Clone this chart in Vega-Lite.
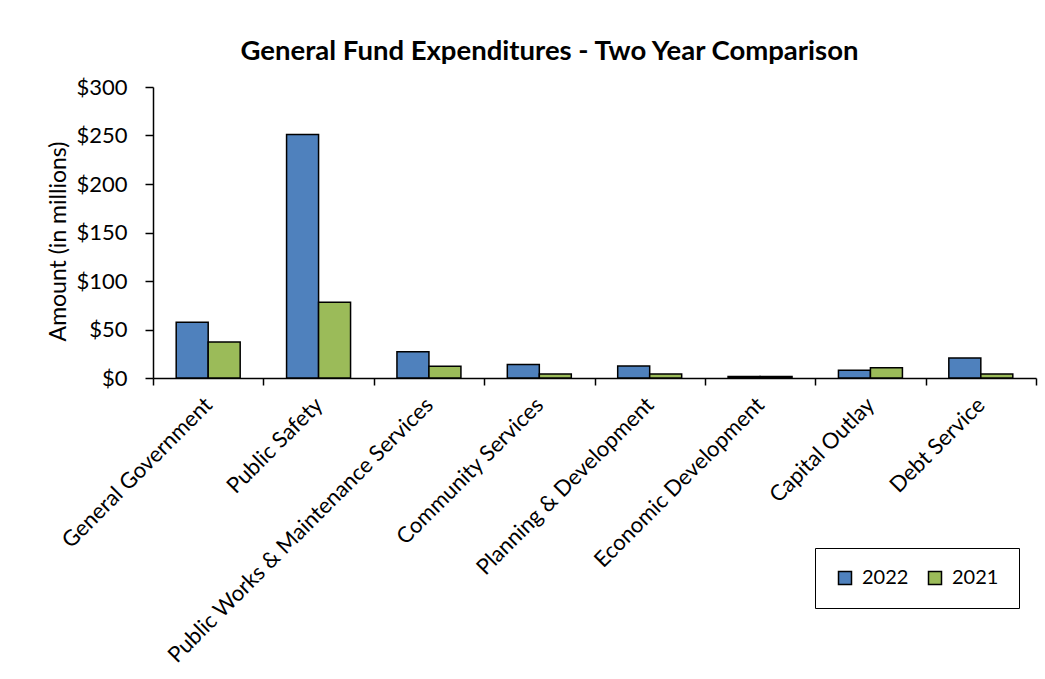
{
  "$schema": "https://vega.github.io/schema/vega-lite/v6.json",
  "autosize": "none",
  "width": 883,
  "height": 291,
  "padding": {"left": 153, "top": 87, "right": 9, "bottom": 301},
  "background": "white",
  "title": {
    "text": "General Fund Expenditures - Two Year Comparison",
    "font": "Lato",
    "fontSize": 27.5,
    "fontWeight": "bold",
    "color": "black",
    "frame": "group",
    "anchor": "middle",
    "dx": -45,
    "baseline": "alphabetic",
    "offset": -11
  },
  "data": {
    "values": [
      {"category": "General Government", "year": "2022", "amount": 57.5},
      {"category": "General Government", "year": "2021", "amount": 37},
      {"category": "Public Safety", "year": "2022", "amount": 251},
      {"category": "Public Safety", "year": "2021", "amount": 78},
      {"category": "Public Works & Maintenance Services", "year": "2022", "amount": 27},
      {"category": "Public Works & Maintenance Services", "year": "2021", "amount": 12},
      {"category": "Community Services", "year": "2022", "amount": 14},
      {"category": "Community Services", "year": "2021", "amount": 4},
      {"category": "Planning & Development", "year": "2022", "amount": 12.5},
      {"category": "Planning & Development", "year": "2021", "amount": 4},
      {"category": "Economic Development", "year": "2022", "amount": 1.5},
      {"category": "Economic Development", "year": "2021", "amount": 1.5},
      {"category": "Capital Outlay", "year": "2022", "amount": 8},
      {"category": "Capital Outlay", "year": "2021", "amount": 10.5},
      {"category": "Debt Service", "year": "2022", "amount": 20.5},
      {"category": "Debt Service", "year": "2021", "amount": 4}
    ]
  },
  "mark": {"type": "bar", "stroke": "black", "strokeWidth": 1.5},
  "encoding": {
    "x": {
      "field": "category",
      "type": "nominal",
      "sort": null,
      "scale": {"paddingInner": 0, "paddingOuter": 0},
      "axis": {
        "title": null,
        "labelAngle": -45,
        "labelAlign": "right",
        "labelBaseline": "middle",
        "labelFont": "Lato",
        "labelFontSize": 22,
        "labelColor": "black",
        "labelPadding": 16,
        "labelLimit": 500,
        "tickBand": "extent",
        "tickSize": 7,
        "tickColor": "black",
        "tickWidth": 1.5,
        "domainColor": "black",
        "domainWidth": 1.5
      }
    },
    "xOffset": {
      "field": "year",
      "type": "nominal",
      "sort": ["2022", "2021"],
      "scale": {"paddingInner": 0, "paddingOuter": 0.725}
    },
    "y": {
      "field": "amount",
      "type": "quantitative",
      "scale": {"domain": [0, 300], "nice": false},
      "axis": {
        "title": "Amount (in millions)",
        "titleFont": "Lato",
        "titleFontSize": 23,
        "titleFontWeight": "normal",
        "titleColor": "black",
        "titlePadding": 5,
        "titleY": 154,
        "titleAlign": "center",
        "values": [0, 50, 100, 150, 200, 250, 300],
        "format": "$,.0f",
        "labelFont": "Lato",
        "labelFontSize": 22,
        "labelColor": "black",
        "labelPadding": 18,
        "tickSize": 8,
        "tickColor": "black",
        "tickWidth": 1.5,
        "domainColor": "black",
        "domainWidth": 1.5,
        "grid": false
      }
    },
    "color": {
      "field": "year",
      "type": "nominal",
      "scale": {"domain": ["2022", "2021"], "range": ["#4F81BD", "#9BBB59"]},
      "legend": {
        "title": null,
        "orient": "none",
        "legendX": 662,
        "legendY": 461,
        "direction": "horizontal",
        "strokeColor": "black",
        "padding": 20,
        "symbolType": "square",
        "symbolSize": 169,
        "symbolStrokeColor": "black",
        "symbolStrokeWidth": 1.5,
        "labelFont": "Lato",
        "labelFontSize": 20,
        "labelColor": "black",
        "labelOffset": 7,
        "columnPadding": 16
      }
    }
  },
  "config": {
    "view": {"stroke": null}
  }
}
